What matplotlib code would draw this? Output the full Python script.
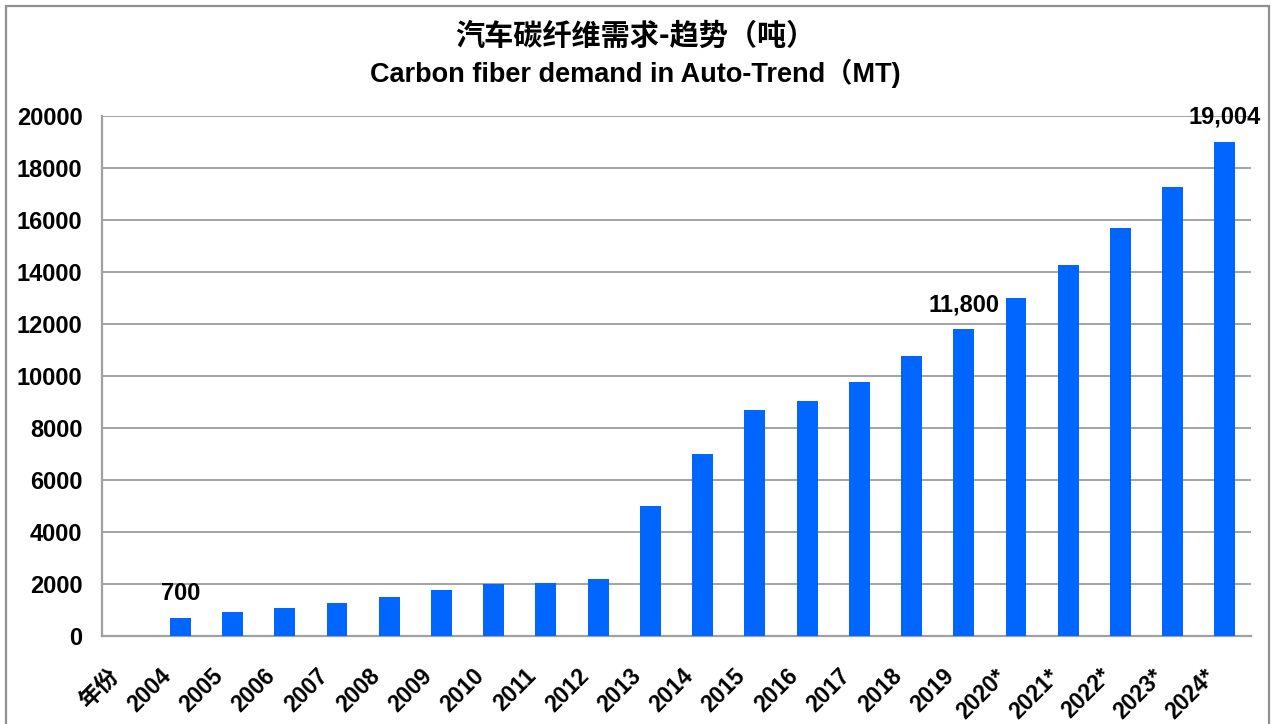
import matplotlib
matplotlib.use("Agg")
import matplotlib.pyplot as plt
from matplotlib.patches import Rectangle
from matplotlib.transforms import ScaledTranslation

# Demand series (metric tons); '*' marks forecast years
categories = ["年份", "2004", "2005", "2006", "2007", "2008", "2009", "2010",
              "2011", "2012", "2013", "2014", "2015", "2016", "2017", "2018",
              "2019", "2020*", "2021*", "2022*", "2023*", "2024*"]
demand = [0, 700, 920, 1080, 1270, 1500, 1770, 2000, 2040, 2190, 5000, 7000,
          8690, 9040, 9770, 10780, 11800, 13000, 14270, 15690, 17270, 19004]
labelled = ["2004", "2019", "2024*"]

title_cn = "汽车碳纤维需求-趋势（吨）"
title_en = "Carbon fiber demand in Auto-Trend（MT)"

plt.rcParams["font.family"] = ["Liberation Sans", "Noto Sans CJK SC", "DejaVu Sans"]
plt.rcParams["font.weight"] = "bold"

W, H = 1271, 724
fig = plt.figure(figsize=(W / 100, H / 100), dpi=100)
ax = fig.add_axes([102 / W, 1 - 636 / H, (1251 - 102) / W, (636 - 116) / H])

x = list(range(len(categories)))
ax.bar(x, demand, width=0.40, color="#0066FF", zorder=3)

ax.set_xlim(-0.5, len(categories) - 0.5)
ax.set_ylim(0, 20000)
ax.set_yticks(range(0, 20001, 2000))
ax.set_yticklabels([str(v) for v in range(0, 20001, 2000)], fontsize=17, fontweight="bold")
ax.set_xticks(x)
ax.set_xticklabels(categories, fontsize=16.5, fontweight="bold", rotation=45,
                   ha="right", va="top", rotation_mode="anchor",
                   family=["Liberation Sans", "Noto Sans CJK SC"])
ax.tick_params(axis="both", length=0)
ax.tick_params(axis="y", pad=14)
ax.tick_params(axis="x", pad=12)
shift = ScaledTranslation(-21 / 100, -12 / 100, fig.dpi_scale_trans)
for lbl in ax.get_xticklabels():
    lbl.set_transform(lbl.get_transform() + shift)

ax.grid(axis="y", color="#8a8a8a", linewidth=1.1, zorder=0)
for side in ("top", "right"):
    ax.spines[side].set_visible(False)
ax.spines["left"].set_color("#a0a0a0")
ax.spines["left"].set_linewidth(1.6)
ax.spines["bottom"].set_color("#a0a0a0")
ax.spines["bottom"].set_linewidth(1.6)

# value labels on selected bars
for cat in labelled:
    i = categories.index(cat)
    v = demand[i]
    ax.annotate(f"{v:,}", (i, v), xytext=(0, 13), textcoords="offset points",
                ha="center", va="baseline", fontsize=17, fontweight="bold")

fig.text(0.5, 1 - 36 / H, title_cn, ha="center", va="center", fontsize=21,
         fontweight="bold", family=["Noto Sans CJK SC", "DejaVu Sans"])
fig.text(0.5, 1 - 73 / H, title_en, ha="center", va="center", fontsize=19.5,
         fontweight="bold", family=["Liberation Sans", "Noto Sans CJK SC"])

# outer frame
fig.patches.append(Rectangle((5.5 / W, -0.05), (1269 - 5.5) / W, 1.05 - 6 / H,
                             transform=fig.transFigure, fill=False,
                             edgecolor="#909090", linewidth=1.6))

fig.savefig("out.png", dpi=100)
